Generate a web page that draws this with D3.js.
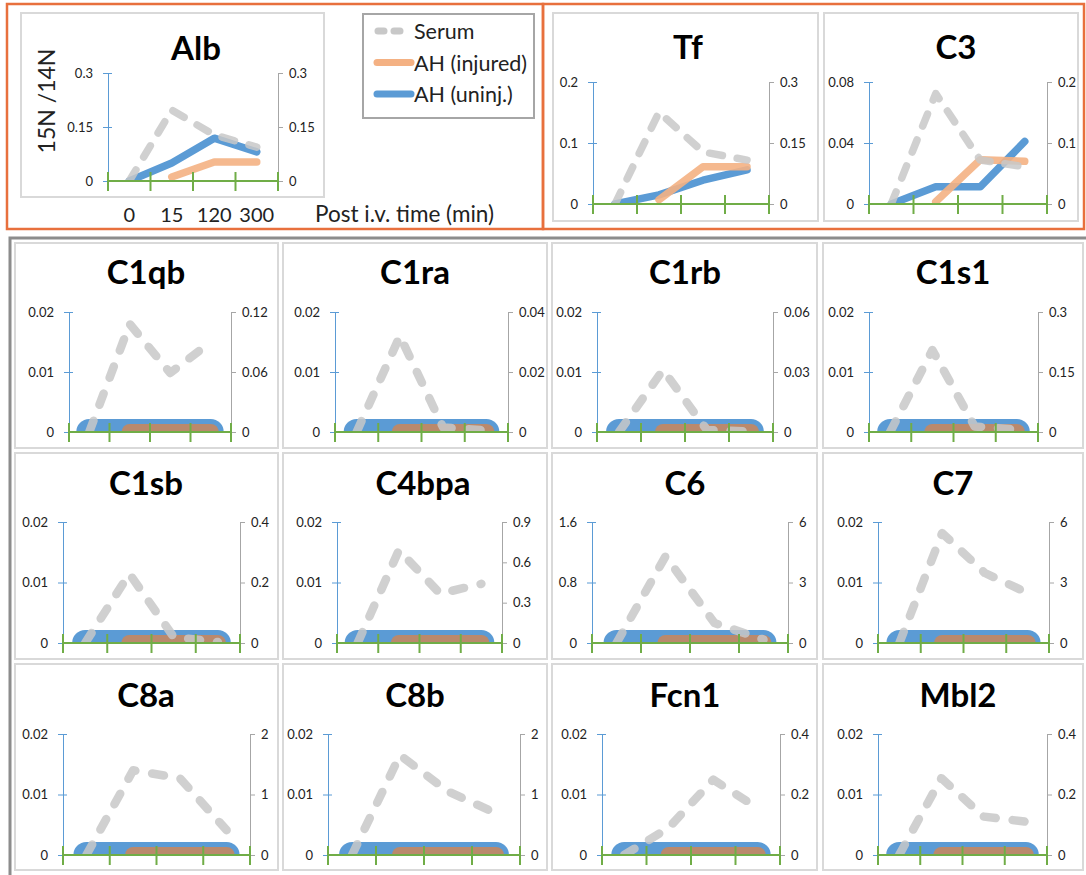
<!DOCTYPE html>
<html>
<head>
<meta charset="utf-8">
<title>15N/14N ratio, serum vs AH</title>
<script src="https://cdn.jsdelivr.net/npm/d3@7"></script>
<style>
  body { margin: 0; background: #fff; }
  svg text { font-family: Lato, "Open Sans", sans-serif; fill: #222; }
</style>
</head>
<body>
<svg width="1086" height="875"></svg>
<script>
// ---- data ----
const times = ["0", "15", "120", "300"];
const genes = ["Alb", "Tf", "C3",
  "C1qb", "C1ra", "C1rb", "C1s1",
  "C1sb", "C4bpa", "C6", "C7",
  "C8a", "C8b", "Fcn1", "Mbl2"];

// serum (right axis)
const serum = [
  [0, 0.197, 0.128, 0.094],
  [0, 0.226, 0.128, 0.108],
  [0, 0.181, 0.072, 0.061],
  [0, 0.108, 0.059, 0.090],
  [0, 0.032, 0.0015, 0.0005],
  [0, 0.031, 0.001, 0.0003],
  [0, 0.205, 0.014, 0.006],
  [0, 0.229, 0.020, 0.003],
  [0, 0.69, 0.367, 0.44],
  [0, 4.3, 0.99, 0.17],
  [0, 5.45, 3.47, 2.48],
  [0, 1.40, 1.27, 0.41],
  [0, 1.65, 1.05, 0.69],
  [0, 0.09, 0.249, 0.155],
  [0, 0.254, 0.127, 0.11]
];
// AH uninjured (left axis)
const uninj = [
  [0, 0.05, 0.119, 0.081],
  [0, 0.015, 0.039, 0.056],
  [0, 0.0113, 0.0113, 0.041],
  [0, 0, 0, 0], [0, 0, 0, 0], [0, 0, 0, 0], [0, 0, 0, 0],
  [0, 0, 0, 0], [0, 0, 0, 0], [0, 0, 0, 0], [0, 0, 0, 0],
  [0, 0, 0, 0], [0, 0, 0, 0], [0, 0, 0, 0], [0, 0, 0, 0]
];
// AH injured (left axis), no 0 min point
const injured = [
  [null, 0.011, 0.053, 0.053],
  [null, 0.007, 0.061, 0.061],
  [null, 0.0015, 0.029, 0.028],
  [null, 0, 0, 0], [null, 0, 0, 0], [null, 0, 0, 0], [null, 0, 0, 0],
  [null, 0, 0, 0], [null, 0, 0, 0], [null, 0, 0, 0], [null, 0, 0, 0],
  [null, 0, 0, 0], [null, 0, 0, 0], [null, 0, 0, 0], [null, 0, 0, 0]
];

const leftTicks = [
  [0, 0.15, 0.3], [0, 0.1, 0.2], [0, 0.04, 0.08],
  [0, 0.01, 0.02], [0, 0.01, 0.02], [0, 0.01, 0.02], [0, 0.01, 0.02],
  [0, 0.01, 0.02], [0, 0.01, 0.02], [0, 0.8, 1.6], [0, 0.01, 0.02],
  [0, 0.01, 0.02], [0, 0.01, 0.02], [0, 0.01, 0.02], [0, 0.01, 0.02]
];
const rightTicks = [
  [0, 0.15, 0.3], [0, 0.15, 0.3], [0, 0.1, 0.2],
  [0, 0.06, 0.12], [0, 0.02, 0.04], [0, 0.03, 0.06], [0, 0.15, 0.3],
  [0, 0.2, 0.4], [0, 0.3, 0.6, 0.9], [0, 3, 6], [0, 3, 6],
  [0, 1, 2], [0, 1, 2], [0, 0.2, 0.4], [0, 0.2, 0.4]
];

const legendNames = ["Serum", "AH (injured)", "AH (uninj.)"];

// ---- layout ----
// panel box [x, y, w, h]
const boxes = [
  [21, 13, 303, 184], [553, 13, 265, 208], [824, 13, 254, 208],
  [15, 243, 263, 205], [283, 243, 264, 205], [552, 243, 265, 205], [823, 243, 260, 205],
  [15, 453, 263, 206], [283, 453, 264, 206], [552, 453, 265, 206], [823, 453, 260, 206],
  [15, 664, 263, 206], [283, 664, 264, 206], [552, 664, 265, 206], [823, 664, 260, 206]
];
// plot x extent [left axis, right axis]
const plotX = [
  [108, 278], [593, 769], [869, 1047],
  [69, 231], [335, 508], [597, 773], [869, 1038],
  [63, 240], [337, 502], [592, 788], [878, 1049],
  [63, 250], [328, 520], [602, 780], [878, 1047]
];
// plot y extent [top tick, zero]
const plotY = [
  [73, 181], [82, 204], [82, 204],
  [312, 432], [312, 432], [312, 432], [312, 432],
  [522, 643], [522, 643], [522, 643], [522, 643],
  [734, 855], [734, 855], [734, 855], [734, 855]
];
// title [x, baseline]
const titlePos = [
  [196, 60], [688, 59], [956, 59],
  [146, 284], [415, 284], [685, 284], [953, 284],
  [146, 495], [423, 495], [685, 495], [953, 495],
  [146, 707], [415, 707], [685, 707], [958, 707]
];

const cBlue = "#5B9BD5", cOrange = "#F4B183", cBrown = "#BA896C",
      cGray = "#C8C8C8", cGreen = "#70AD47", cAxisR = "#A6A6A6";

const svg = d3.select("svg");
const fmt = d => String(d);

// frames
svg.append("rect").attr("x", 7).attr("y", 4).attr("width", 536).attr("height", 225)
  .attr("fill", "none").attr("stroke", "#E8703D").attr("stroke-width", 2.5);
svg.append("rect").attr("x", 543).attr("y", 4).attr("width", 541).attr("height", 225)
  .attr("fill", "none").attr("stroke", "#E8703D").attr("stroke-width", 2.5);
svg.append("rect").attr("x", 10).attr("y", 238).attr("width", 1090).attr("height", 650)
  .attr("fill", "none").attr("stroke", "#8C8C8C").attr("stroke-width", 3);

genes.forEach(function(g, i) {
  const isTop = i < 3;
  const b = boxes[i];
  const xl = plotX[i][0], xr = plotX[i][1];
  const yt = plotY[i][0], y0 = plotY[i][1];
  const p = svg.append("g");

  p.append("rect").attr("x", b[0]).attr("y", b[1]).attr("width", b[2]).attr("height", b[3])
    .attr("fill", "#fff").attr("stroke", "#D9D9D9").attr("stroke-width", 2);

  p.append("text").attr("x", titlePos[i][0]).attr("y", titlePos[i][1])
    .attr("text-anchor", "middle").style("font-size", "33px").style("font-weight", "bold")
    .style("fill", "#000").text(g);

  const x = d3.scaleBand().domain(times).range([xl, xr]);
  const cx = t => x(t) + x.bandwidth() / 2;
  const yL = d3.scaleLinear().domain([0, d3.max(leftTicks[i])]).range([y0, yt]);
  const yR = d3.scaleLinear().domain([0, d3.max(rightTicks[i])]).range([y0, yt]);

  // left axis (AH)
  const ax = p.append("g").attr("transform", `translate(${xl},0)`)
    .call(d3.axisLeft(yL).tickValues(leftTicks[i]).tickFormat(fmt)
      .tickSize(5).tickSizeOuter(0).tickPadding(10));
  ax.select(".domain").attr("stroke", cBlue);
  ax.selectAll(".tick line").attr("stroke", cBlue).attr("x1", 4);
  ax.selectAll(".tick text").style("font-size", "13px").style("font-family", "Lato");

  // right axis (serum)
  const ar = p.append("g").attr("transform", `translate(${xr},0)`)
    .call(d3.axisRight(yR).tickValues(rightTicks[i]).tickFormat(fmt)
      .tickSize(5).tickSizeOuter(0).tickPadding(6));
  ar.select(".domain").attr("stroke", cAxisR);
  ar.selectAll(".tick line").attr("stroke", cAxisR);
  ar.selectAll(".tick text").style("font-size", "13px").style("font-family", "Lato");

  // clip lines at the zero line
  const clipId = "clip" + i;
  p.append("clipPath").attr("id", clipId).append("rect")
    .attr("x", xl - 30).attr("y", yt - 40).attr("width", xr - xl + 60).attr("height", y0 - yt + 40);
  const plot = p.append("g").attr("clip-path", `url(#${clipId})`);

  const lineL = d3.line().defined(d => d != null).x((d, k) => cx(times[k])).y(d => yL(d));
  const lineR = d3.line().defined(d => d != null).x((d, k) => cx(times[k])).y(d => yR(d));

  plot.append("path").datum(uninj[i]).attr("d", lineL).attr("fill", "none")
    .attr("stroke", cBlue).attr("stroke-width", isTop ? 7.5 : 26)
    .attr("stroke-linecap", "round").attr("stroke-linejoin", "round");
  plot.append("path").datum(injured[i]).attr("d", lineL).attr("fill", "none")
    .attr("stroke", isTop ? cOrange : cBrown).attr("stroke-opacity", isTop ? 0.9 : 1)
    .attr("stroke-width", isTop ? 7.5 : 16)
    .attr("stroke-linecap", "round").attr("stroke-linejoin", "round");
  plot.append("path").datum(serum[i]).attr("d", lineR).attr("fill", "none")
    .attr("stroke", cGray).attr("stroke-opacity", 0.85)
    .attr("stroke-width", isTop ? 7.5 : 8.5).attr("stroke-dasharray", isTop ? "13,15" : "12,17")
    .attr("stroke-linecap", "round").attr("stroke-linejoin", "round");

  // green time axis with band-edge ticks
  p.append("line").attr("x1", xl).attr("x2", xr).attr("y1", y0).attr("y2", y0)
    .attr("stroke", cGreen).attr("stroke-width", 2);
  const edges = times.map(t => x(t)).concat([xr]);
  p.selectAll(".xt").data(edges).enter().append("line")
    .attr("x1", d => d).attr("x2", d => d)
    .attr("y1", y0 - 9).attr("y2", y0 + 10)
    .attr("stroke", cGreen).attr("stroke-width", 2);

  if (i === 0) {
    // time labels under Alb
    p.selectAll(".tl").data(times).enter().append("text")
      .attr("x", d => cx(d)).attr("y", 222).attr("text-anchor", "middle")
      .style("font-size", "20px").text(d => d);
    p.append("text").attr("x", 315).attr("y", 222).style("font-size", "22.5px")
      .text("Post i.v. time (min)");
    p.append("text").attr("transform", "translate(46,101) rotate(-90)")
      .attr("text-anchor", "middle").attr("dominant-baseline", "central")
      .style("font-size", "23px").text("15N /14N");
  }
});

// legend
const lg = svg.append("g");
lg.append("rect").attr("x", 363).attr("y", 14).attr("width", 171).attr("height", 104)
  .attr("fill", "#fff").attr("stroke", "#A6A6A6").attr("stroke-width", 2);
const legY = d3.scalePoint().domain(legendNames).range([31, 94]);
const legStyle = [
  { c: cGray, dash: "6,10", x1: 378, x2: 404 },
  { c: cOrange, dash: null, x1: 377, x2: 411 },
  { c: cBlue, dash: null, x1: 377, x2: 411 }
];
legendNames.forEach(function(n, k) {
  const s = legStyle[k];
  lg.append("line").attr("x1", s.x1).attr("x2", s.x2).attr("y1", legY(n)).attr("y2", legY(n))
    .attr("stroke", s.c).attr("stroke-width", 7).attr("stroke-linecap", "round")
    .attr("stroke-dasharray", s.dash);
  lg.append("text").attr("x", 414).attr("y", legY(n)).attr("dominant-baseline", "central")
    .style("font-size", "21.5px").text(n);
});
</script>
</body>
</html>
